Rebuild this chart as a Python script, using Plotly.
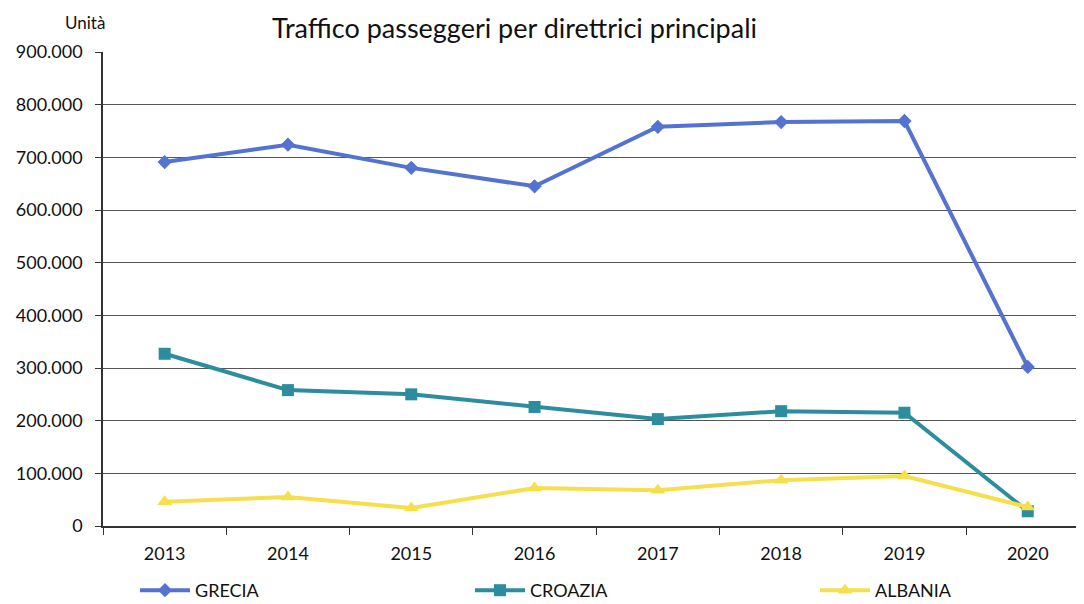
import plotly.graph_objects as go

years = ["2013", "2014", "2015", "2016", "2017", "2018", "2019", "2020"]
grecia = [691000, 724000, 680000, 645000, 758000, 767000, 769000, 302000]
croazia = [327000, 258000, 250000, 226000, 203000, 218000, 215000, 28000]
albania = [46000, 55000, 34000, 72000, 68000, 87000, 95000, 36000]
y_ticks = [0, 100000, 200000, 300000, 400000, 500000, 600000, 700000, 800000, 900000]

OFF = 8  # default page body margin
W, H = 1084 - OFF, 604 - OFF
L, R, T, B = 103 - OFF, 0, 52 - OFF, 78
pw, ph = W - L - R, H - T - B

FONT = "Lato"
FS = 18

fig = go.Figure()
fig.add_trace(go.Scatter(x=years, y=grecia, name="GRECIA", mode="lines+markers",
                         legend="legend",
                         line=dict(color="#5472cf", width=4),
                         marker=dict(symbol="diamond", size=11, color="#5472cf")))
fig.add_trace(go.Scatter(x=years, y=croazia, name="CROAZIA", mode="lines+markers",
                         legend="legend2",
                         line=dict(color="#2b8d9e", width=4),
                         marker=dict(symbol="square", size=12, color="#2b8d9e")))
fig.add_trace(go.Scatter(x=years, y=albania, name="ALBANIA", mode="lines+markers",
                         legend="legend3",
                         line=dict(color="#f6df4c", width=4),
                         marker=dict(symbol="triangle-up", size=13, color="#f6df4c")))

cat_px = 123.3
x_end = -0.5 + pw / cat_px


def px_x(xpage):
    return (xpage - OFF - L) / pw


def px_y(ypage):
    return (T + ph - (ypage - OFF)) / ph


def leg(xpage):
    return dict(xref="container", yref="container",
                x=(xpage - OFF) / W, xanchor="left",
                y=1 - (572 - OFF) / H, yanchor="top",
                bgcolor="rgba(0,0,0,0)", itemwidth=50,
                font=dict(family=FONT, size=FS, color="#111"))


fig.update_layout(
    width=W, height=H,
    margin=dict(l=L, r=R, t=T, b=B, autoexpand=False),
    paper_bgcolor="white", plot_bgcolor="white",
    font=dict(family=FONT, size=FS, color="#111"),
    separators=",.",
    showlegend=True,
    legend=leg(135),
    legend2=leg(470),
    legend3=leg(815),
    xaxis=dict(type="category", range=[-0.5, x_end], showgrid=False,
               showline=True, linecolor="#333", linewidth=1.5,
               ticks="outside", tickson="boundaries", ticklen=7, tickcolor="#333",
               ticklabelstandoff=11,
               tickfont=dict(family=FONT, size=FS, color="#111"), zeroline=False),
    yaxis=dict(range=[0, 900000], tickvals=y_ticks, tickformat=",d",
               showgrid=True, gridcolor="#555", gridwidth=1,
               showline=True, linecolor="#333", linewidth=1.5,
               ticks="outside", ticklen=6, tickcolor="#333",
               ticklabelstandoff=9,
               tickfont=dict(family=FONT, size=FS, color="#111"), zeroline=False),
    annotations=[
        dict(text="Unità", xref="paper", yref="paper",
             x=px_x(85), y=px_y(22), xanchor="center", yanchor="middle",
             showarrow=False, font=dict(family=FONT, size=17, color="#111")),
        dict(text="Traffico passeggeri per direttrici principali", xref="paper", yref="paper",
             x=px_x(514), y=px_y(27), xanchor="center", yanchor="middle",
             showarrow=False, font=dict(family=FONT, size=27, color="#111")),
    ],
)

fig.write_html("out.html")
